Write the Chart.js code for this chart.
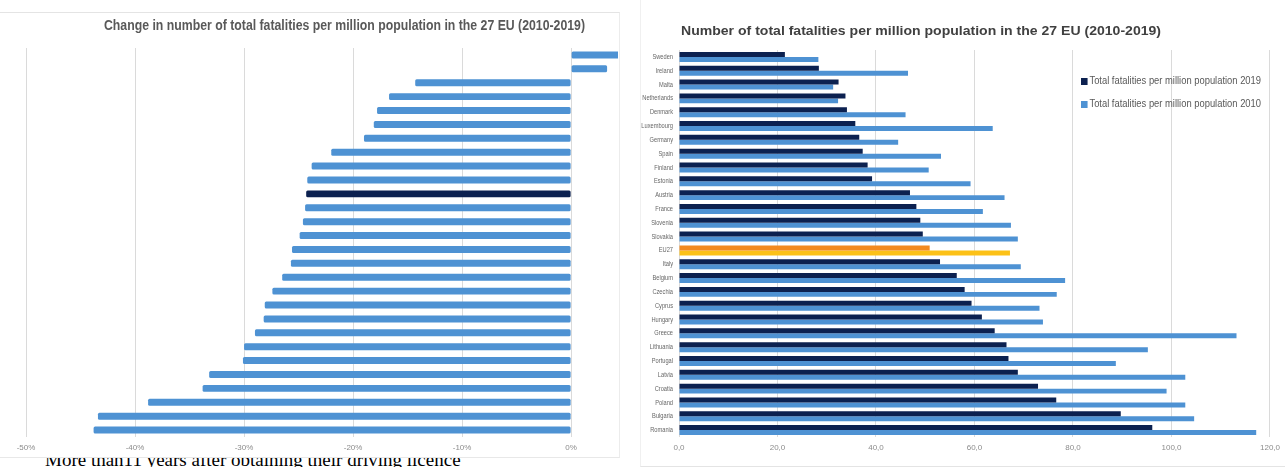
<!DOCTYPE html>
<html>
<head>
<meta charset="utf-8">
<script src="https://cdn.jsdelivr.net/npm/chart.js@4.4.1/dist/chart.umd.min.js"></script>
<style>
  body { margin: 0; width: 1285px; height: 467px; background: #fff; position: relative; overflow: hidden; }
  .panel { position: absolute; background: #fff; box-sizing: border-box; }
  #leftPanel { left: 0; top: 12px; width: 620px; height: 446px; border-top: 1px solid #e4e4e4; border-right: 1px solid #ececec; border-bottom: 1px solid #e8e8e8; z-index: 2; }
  #rightPanel { left: 640px; top: 0; width: 645px; height: 467px; border-left: 1px solid #f0f0f0; border-bottom: 1px solid #e4e4e4; }
  canvas { position: absolute; left: 0; top: 0; }
  .fit { position: absolute; white-space: nowrap; font-family: "Liberation Sans", Arial, sans-serif; transform-origin: 0 50%; }
  #leftTitle { left: 104px; top: 4px; font-size: 14px; line-height: 16px; font-weight: bold; color: #595959; }
  #rightTitle { left: 40px; top: 23px; font-size: 13.5px; line-height: 16px; font-weight: bold; color: #404040; }
  .legendItem { font-size: 10px; line-height: 12px; color: #595959; left: 440px; }
  .legendItem span { display: inline-block; width: 7px; height: 7px; margin-right: 2px; vertical-align: -0.5px; }
  #note { position: absolute; left: 45px; top: 450px; font-family: "Liberation Serif", "Times New Roman", serif; font-size: 19px; line-height: 19px; color: #000; white-space: nowrap; z-index: 1; }
</style>
</head>
<body>
<div id="note">More than11 years after obtaining their driving licence</div>
<div class="panel" id="leftPanel">
  <canvas id="changeChart" width="619" height="445"></canvas>
  <div class="fit" id="leftTitle">Change in number of total fatalities per million population in the 27 EU (2010-2019)</div>
</div>
<div class="panel" id="rightPanel">
  <canvas id="fatalChart" width="645" height="467"></canvas>
  <div class="fit" id="rightTitle">Number of total fatalities per million population in the 27 EU (2010-2019)</div>
  <div class="fit legendItem" id="leg2019" style="top:75px"><span style="background:#0c2150"></span>Total fatalities per million population 2019</div>
  <div class="fit legendItem" id="leg2010" style="top:98px"><span style="background:#4e92d3"></span>Total fatalities per million population 2010</div>
</div>
<script>
// left chart: change 2010-2019 (%), sorted
const changeCountries = ["Netherlands", "Malta", "Bulgaria", "Hungary", "Romania", "Germany", "Cyprus",
  "France", "Italy", "Sweden", "EU27", "Czechia", "Finland", "Poland", "Portugal", "Croatia", "Denmark",
  "Slovenia", "Belgium", "Slovakia", "Austria", "Spain", "Lithuania", "Latvia", "Estonia", "Ireland",
  "Greece", "Luxembourg"];
const changeValues = [6.0, 3.3, -14.3, -16.7, -17.8, -18.1, -19.0, -22.0, -23.8, -24.2, -24.3, -24.4,
  -24.6, -24.9, -25.6, -25.7, -26.5, -27.4, -28.1, -28.2, -29.0, -30.0, -30.1, -33.2, -33.8, -38.8,
  -43.4, -43.8];
const changeTicks = [-50, -40, -30, -20, -10, 0];

// right chart: fatalities per million population
const countries = ["Sweden", "Ireland", "Malta", "Netherlands", "Denmark", "Luxembourg", "Germany", "Spain",
  "Finland", "Estonia", "Austria", "France", "Slovenia", "Slovakia", "EU27", "Italy", "Belgium", "Czechia",
  "Cyprus", "Hungary", "Greece", "Lithuania", "Portugal", "Latvia", "Croatia", "Poland", "Bulgaria", "Romania"];
const fatal2019 = [21.5, 28.4, 32.4, 33.8, 34.1, 35.8, 36.6, 37.3, 38.3, 39.2, 46.9, 48.2, 49.0, 49.5,
  50.9, 53.0, 56.4, 58.0, 59.4, 61.5, 64.1, 66.5, 66.9, 68.8, 72.9, 76.6, 89.7, 96.1];
const fatal2010 = [28.3, 46.5, 31.3, 32.3, 46.0, 63.7, 44.5, 53.2, 50.7, 59.2, 66.1, 61.7, 67.4, 68.8,
  67.2, 69.4, 78.4, 76.7, 73.2, 73.9, 113.2, 95.2, 88.7, 102.8, 99.0, 102.8, 104.6, 117.2];
const fatalTicks = [0, 20, 40, 60, 80, 100, 120];

const DARK = "#0c2150";
const LIGHT = "#4e92d3";
const SANS = "'Liberation Sans', Arial, sans-serif";
const GRID = "#dadada";

function fitText(id, width) {
  const el = document.getElementById(id);
  const w = el.getBoundingClientRect().width;
  el.style.transform = `scaleX(${width / w})`;
}
fitText("leftTitle", 481);
fitText("rightTitle", 480);
fitText("leg2019", 180);
fitText("leg2010", 180);

// the category names in the picture use a narrow face: draw them squeezed
const narrowYLabels = {
  id: "narrowYLabels",
  afterDraw(chart) {
    const scale = chart.scales.y;
    const ctx = chart.ctx;
    ctx.save();
    ctx.font = `7.5px ${SANS}`;
    ctx.fillStyle = "#666666";
    ctx.textAlign = "right";
    ctx.textBaseline = "middle";
    scale.ticks.forEach((t, i) => {
      ctx.save();
      ctx.translate(chart.chartArea.left - 6, scale.getPixelForTick(i));
      ctx.scale(0.76, 1);
      ctx.fillText(chart.data.labels[t.value], 0, 0);
      ctx.restore();
    });
    ctx.restore();
  },
};

new Chart(document.getElementById("changeChart"), {
  type: "bar",
  data: {
    labels: changeCountries,
    datasets: [{
      data: changeValues,
      backgroundColor: changeCountries.map((c) => (c === "EU27" ? DARK : LIGHT)),
      barPercentage: 0.5,
      categoryPercentage: 1,
      borderRadius: 1.5,
      borderSkipped: false,
    }],
  },
  options: {
    indexAxis: "y",
    responsive: false,
    animation: false,
    layout: { padding: { top: 35, left: 26, right: 1, bottom: 1 } },
    plugins: { legend: { display: false }, tooltip: { enabled: false } },
    scales: {
      x: {
        min: -50,
        max: 4.3,
        afterBuildTicks: (s) => { s.ticks = changeTicks.map((v) => ({ value: v })); },
        afterFit: (s) => { s.height = 20; },
        ticks: { callback: (v) => v + "%", font: { family: SANS, size: 8 }, color: "#8c8c8c", padding: 6 },
        grid: { color: GRID, drawTicks: false },
        border: { display: false },
      },
      y: { display: false },
    },
  },
});

new Chart(document.getElementById("fatalChart"), {
  type: "bar",
  data: {
    labels: countries,
    datasets: [
      {
        label: "Total fatalities per million population 2019",
        data: fatal2019,
        backgroundColor: countries.map((c) => (c === "EU27" ? "#f38a1f" : DARK)),
        barPercentage: 1,
        categoryPercentage: 0.72,
      },
      {
        label: "Total fatalities per million population 2010",
        data: fatal2010,
        backgroundColor: countries.map((c) => (c === "EU27" ? "#fcc117" : LIGHT)),
        barPercentage: 1,
        categoryPercentage: 0.72,
      },
    ],
  },
  options: {
    indexAxis: "y",
    responsive: false,
    animation: false,
    layout: { padding: { top: 50, left: 0, right: 11, bottom: 10 } },
    plugins: { legend: { display: false }, tooltip: { enabled: false } },
    scales: {
      x: {
        min: 0,
        max: 120,
        afterBuildTicks: (s) => { s.ticks = fatalTicks.map((v) => ({ value: v })); },
        afterFit: (s) => { s.height = 20; },
        ticks: {
          callback: (v) => v.toFixed(1).replace(".", ","),
          font: { family: SANS, size: 8 },
          color: "#8c8c8c",
          padding: 6,
        },
        grid: { color: GRID, drawTicks: false },
        border: { display: false },
      },
      y: {
        afterFit: (s) => { s.width = 38; },
        ticks: { display: false, autoSkip: false },
        grid: { display: false, drawTicks: false },
        border: { display: false },
      },
    },
  },
  plugins: [narrowYLabels],
});
</script>
</body>
</html>
